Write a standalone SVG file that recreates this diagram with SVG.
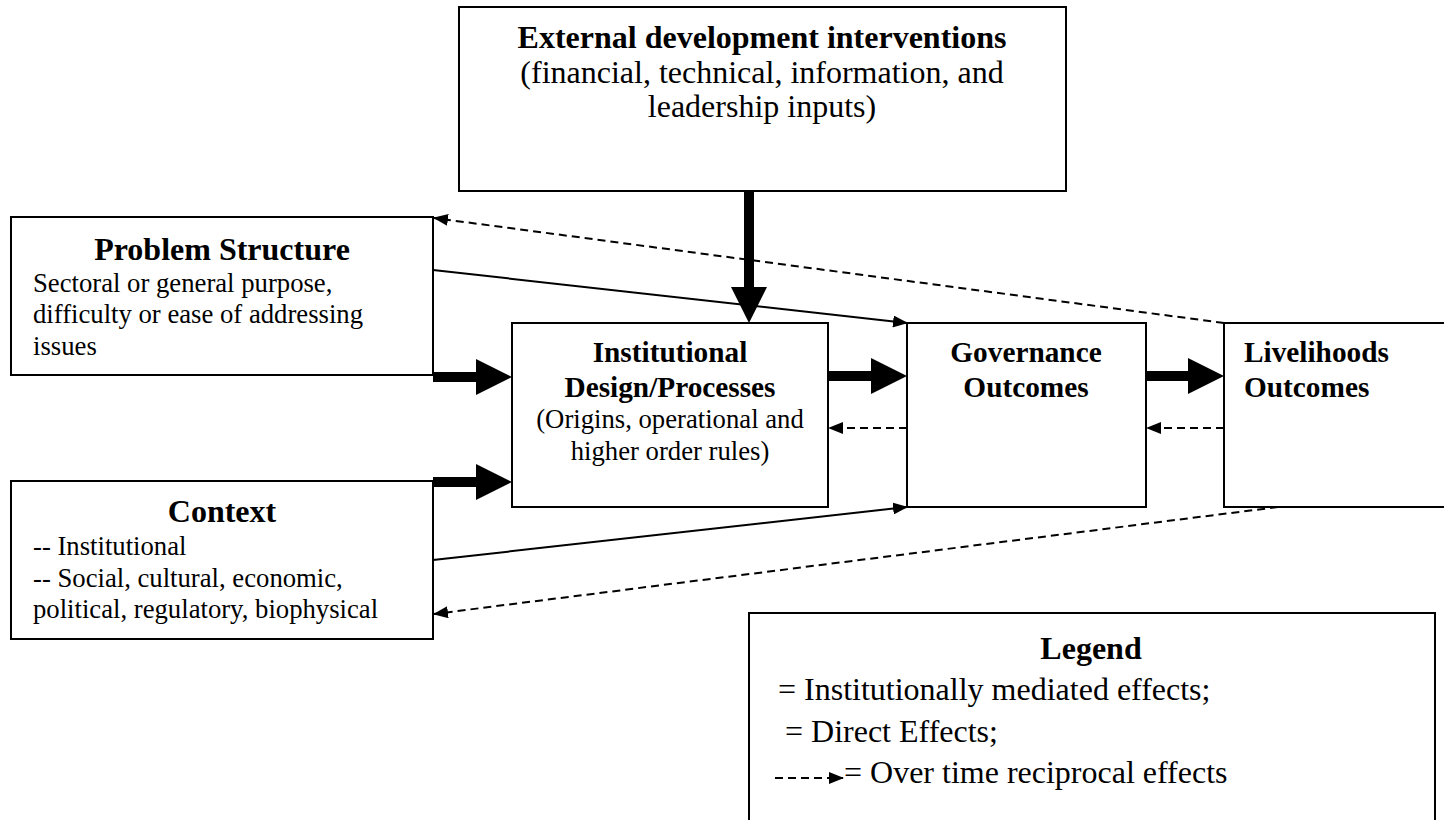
<svg xmlns="http://www.w3.org/2000/svg" width="1444" height="820" viewBox="0 0 1444 820">
<style>
  .box { fill: #fff; stroke: #000; stroke-width: 2; }
  text { font-family: "Liberation Serif", "Times New Roman", serif; fill: #000; }
  .t32b { font-size: 32px; font-weight: bold; }
  .t29b { font-size: 29.3px; font-weight: bold; }
  .t32 { font-size: 32px; }
  .t27 { font-size: 26.7px; }
  .mid { text-anchor: middle; }
  .thick { stroke: #000; stroke-width: 10; fill: none; }
  .thin { stroke: #000; stroke-width: 2; fill: none; }
  .dash { stroke: #000; stroke-width: 2; fill: none; stroke-dasharray: 8 5; }
</style>
<defs>
  <marker id="bighead" markerUnits="userSpaceOnUse" markerWidth="36" markerHeight="36" viewBox="0 0 36 36" refX="0" refY="18" orient="auto">
    <path d="M0,0 L36,18 L0,36 Z" fill="#000"/>
  </marker>
  <marker id="smallhead" markerUnits="userSpaceOnUse" markerWidth="15" markerHeight="12" viewBox="0 0 15 12" refX="14" refY="6" orient="auto">
    <path d="M0,0 L15,6 L0,12 Z" fill="#000"/>
  </marker>
</defs>

<g id="external">
  <rect class="box" x="459" y="7" width="607" height="184"/>
  <text class="t32b mid" x="762" y="48">External development interventions</text>
  <text class="t32 mid" x="762" y="83">(financial, technical, information, and</text>
  <text class="t32 mid" x="762" y="117">leadership inputs)</text>
</g>

<g id="problem-structure">
  <rect class="box" x="11" y="217" width="422" height="158"/>
  <text class="t32b mid" x="222" y="260">Problem Structure</text>
  <text class="t27" x="33" y="292">Sectoral or general purpose,</text>
  <text class="t27" x="33" y="323">difficulty or ease of addressing</text>
  <text class="t27" x="33" y="355">issues</text>
</g>

<g id="context">
  <rect class="box" x="11" y="481" width="422" height="158"/>
  <text class="t32b mid" x="222" y="522">Context</text>
  <text class="t27" x="33" y="555">-- Institutional</text>
  <text class="t27" x="33" y="587">-- Social, cultural, economic,</text>
  <text class="t27" x="33" y="618">political, regulatory, biophysical</text>
</g>

<g id="institutional">
  <rect class="box" x="512" y="323" width="316" height="184"/>
  <text class="t29b mid" x="670" y="362">Institutional</text>
  <text class="t29b mid" x="670" y="397">Design/Processes</text>
  <text class="t27 mid" x="670" y="428">(Origins, operational and</text>
  <text class="t27 mid" x="670" y="460">higher order rules)</text>
</g>

<g id="governance">
  <rect class="box" x="907" y="323" width="239" height="184"/>
  <text class="t29b mid" x="1026" y="362">Governance</text>
  <text class="t29b mid" x="1026" y="397">Outcomes</text>
</g>

<g id="livelihoods">
  <rect class="box" x="1224" y="323" width="240" height="184"/>
  <text class="t29b" x="1244" y="362">Livelihoods</text>
  <text class="t29b" x="1244" y="397">Outcomes</text>
</g>

<g id="legend">
  <rect class="box" x="749" y="613" width="686" height="220"/>
  <text class="t32b mid" x="1091" y="659">Legend</text>
  <text class="t32" x="778" y="700">= Institutionally mediated effects;</text>
  <text class="t32" x="785" y="742">= Direct Effects;</text>
  <line class="dash" x1="775" y1="778" x2="843" y2="778" marker-end="url(#smallhead)"/>
  <text class="t32" x="844" y="783">= Over time reciprocal effects</text>
</g>

<g id="connectors">
  <line class="thick" x1="749" y1="191" x2="749" y2="287" marker-end="url(#bighead)"/>
  <line class="thick" x1="433" y1="377" x2="476" y2="377" marker-end="url(#bighead)"/>
  <line class="thick" x1="433" y1="482" x2="476" y2="482" marker-end="url(#bighead)"/>
  <line class="thick" x1="828" y1="376" x2="871" y2="376" marker-end="url(#bighead)"/>
  <line class="thick" x1="1146" y1="376" x2="1188" y2="376" marker-end="url(#bighead)"/>
  <line class="thin" x1="433" y1="270" x2="907" y2="323" marker-end="url(#smallhead)"/>
  <line class="thin" x1="433" y1="560" x2="907" y2="507" marker-end="url(#smallhead)"/>
  <line class="dash" x1="1224" y1="323" x2="434" y2="218" marker-end="url(#smallhead)"/>
  <line class="dash" x1="1278" y1="507" x2="434" y2="614" marker-end="url(#smallhead)"/>
  <line class="dash" x1="907" y1="428" x2="829" y2="428" marker-end="url(#smallhead)"/>
  <line class="dash" x1="1224" y1="428" x2="1147" y2="428" marker-end="url(#smallhead)"/>
</g>
</svg>
